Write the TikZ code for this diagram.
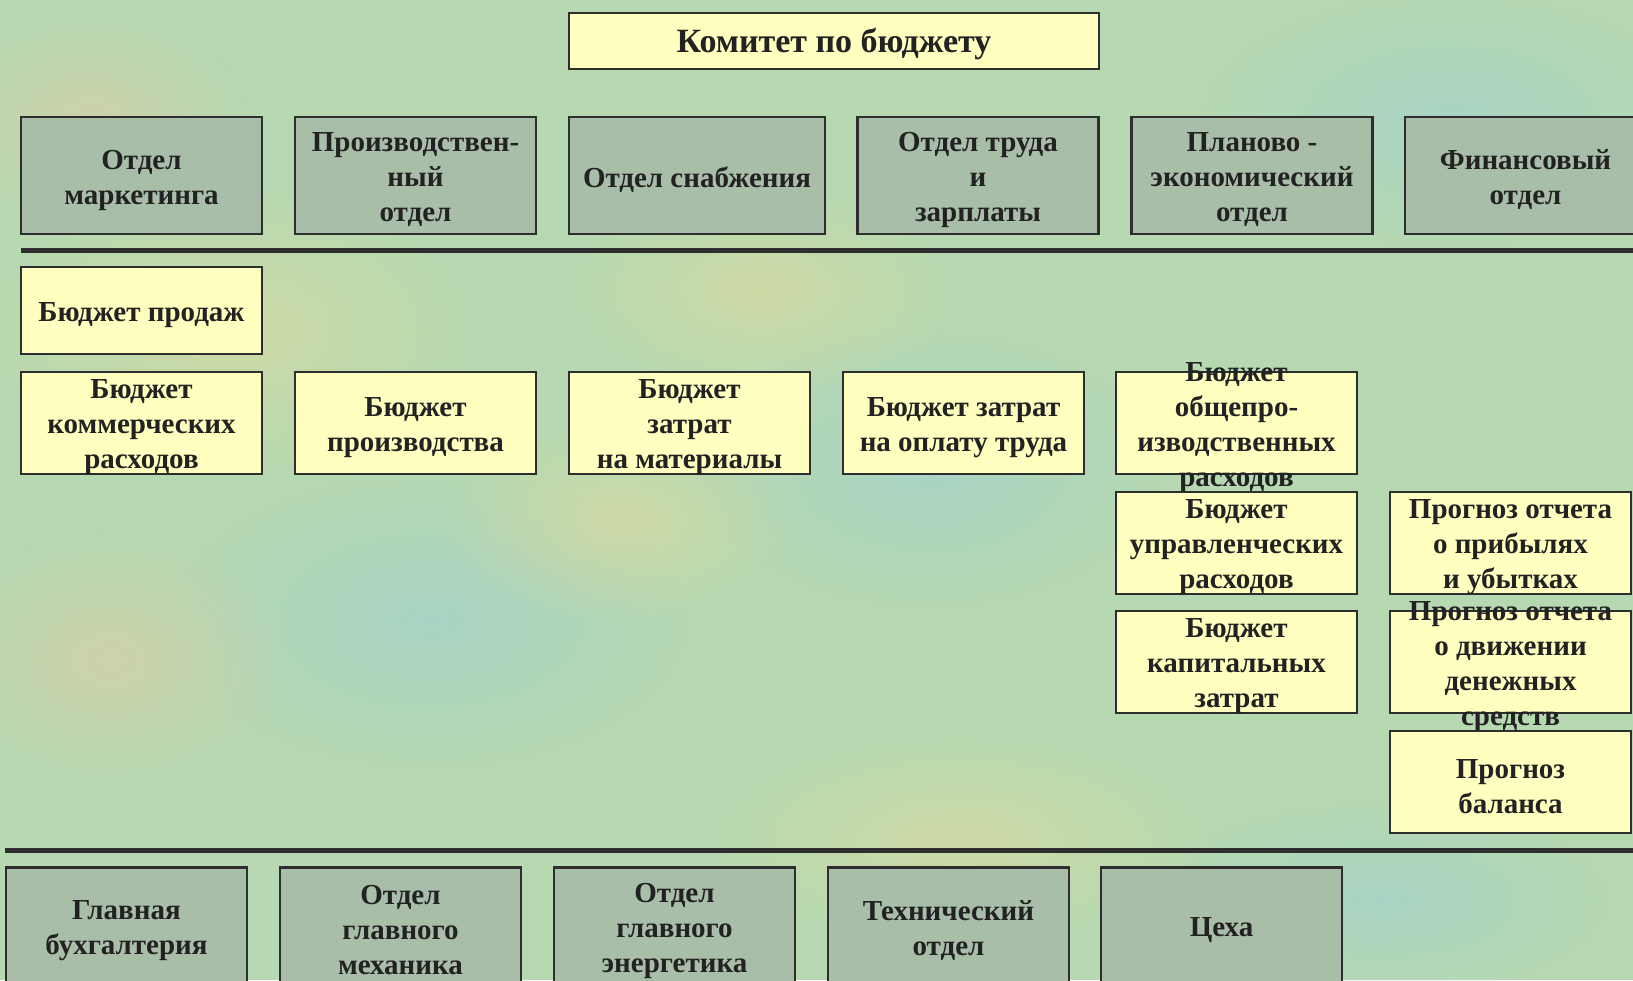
\documentclass[tikz,border=0pt]{standalone}
\usepackage{fontspec}
\setmainfont{Liberation Serif}
\usetikzlibrary{fadings}
\definecolor{bgc}{HTML}{B6D9B2}
\definecolor{greyc}{HTML}{A9BEA8}
\definecolor{yelc}{HTML}{FFFFC0}
\definecolor{bordc}{HTML}{2E2E2E}
\definecolor{textc}{HTML}{222222}
\definecolor{warmc}{HTML}{D9D9A0}
\definecolor{bluec}{HTML}{A4D2CC}
\definecolor{peachc}{HTML}{D8CFA8}
\tikzfading[name=softblob, inner color=transparent!0, outer color=transparent!100]
\tikzset{
  gbox/.style={draw=bordc, line width=2.8pt, fill=greyc, minimum width=241pt, minimum height=117pt, inner sep=0pt},
  ybox/.style={draw=bordc, line width=2.8pt, fill=yelc, minimum width=241pt, minimum height=102pt, inner sep=0pt},
  txt/.style={align=center, inner sep=0pt, yshift=-4.5pt, font=\fontsize{29}{35}\selectfont\bfseries, text=textc},
  blob/.style={path fading=softblob, fill opacity=0.7},
  rule/.style={draw=bordc, line width=5pt}
}
% \mybox{style}{name}{position}{text}
\newcommand{\mybox}[4]{%
  \node[#1] (#2) at #3 {};
  \node[txt] (#2-t) at (#2.center) {#4};}
\begin{document}
\begin{tikzpicture}[x=1pt,y=-1pt]
\useasboundingbox (0,0) rectangle (1633,980);
% background
\fill[bgc] (0,0) rectangle (1633,980);
\fill[blob, fill=warmc] (230,330) ellipse (260 and 150);
\fill[blob, fill=warmc] (760,290) ellipse (200 and 110);
\fill[blob, fill=bluec] (430,620) ellipse (260 and 150);
\fill[blob, fill=bluec] (930,470) ellipse (230 and 140);
\fill[blob, fill=peachc] (110,660) ellipse (180 and 130);
\fill[blob, fill=warmc] (620,520) ellipse (170 and 100);
\fill[blob, fill=bluec] (1450,120) ellipse (250 and 130);
\fill[blob, fill=warmc] (960,840) ellipse (260 and 110);
\fill[blob, fill=bluec] (1380,900) ellipse (230 and 100);
\fill[blob, fill=peachc] (90,120) ellipse (160 and 110);
% top
\node[ybox, minimum width=530pt, minimum height=56pt] (kom) at (834,41) {};
\node[txt, yshift=2pt, font=\fontsize{34}{40}\selectfont\bfseries] (kom-t) at (kom.center) {Комитет по бюджету};
% row 1
\mybox{gbox}{mark}{(141.5,175.5)}{Отдел\\маркетинга}
\mybox{gbox}{proizv}{(415.5,175.5)}{Производствен-\\ный\\отдел}
\mybox{gbox, minimum width=256pt}{snab}{(697,175.5)}{Отдел снабжения}
\mybox{gbox}{trud}{(978,175.5)}{Отдел труда\\и\\зарплаты}
\mybox{gbox}{plan}{(1252,175.5)}{Планово -\\экономический\\отдел}
\mybox{gbox}{fin}{(1525.5,175.5)}{Финансовый\\отдел}
% rule 1
\coordinate (r1a) at (21,250);
\coordinate (r1b) at (1633,250);
\draw[rule] (r1a) -- (r1b);
% budgets
\mybox{ybox, minimum height=87pt}{prod}{(141.5,310.5)}{Бюджет продаж}
\mybox{ybox}{komm}{(141.5,423)}{Бюджет\\коммерческих\\расходов}
\mybox{ybox}{bproizv}{(415.5,423)}{Бюджет\\производства}
\mybox{ybox}{mat}{(689.5,423)}{Бюджет\\затрат\\на материалы}
\mybox{ybox}{opl}{(963.5,423)}{Бюджет затрат\\на оплату труда}
\mybox{ybox}{obsch}{(1236.5,423)}{Бюджет\\общепро-\\изводственных\\расходов}
\mybox{ybox}{upr}{(1236.5,543)}{Бюджет\\управленческих\\расходов}
\mybox{ybox}{prib}{(1510.5,543)}{Прогноз отчета\\о прибылях\\и убытках}
\mybox{ybox}{kap}{(1236.5,662)}{Бюджет\\капитальных\\затрат}
\mybox{ybox}{dvizh}{(1510.5,662)}{Прогноз отчета\\о движении\\денежных\\средств}
\mybox{ybox}{bal}{(1510.5,782)}{Прогноз\\баланса}
% rule 2
\coordinate (r2a) at (5,850);
\coordinate (r2b) at (1633,850);
\draw[rule] (r2a) -- (r2b);
% bottom row
\mybox{gbox}{buh}{(126.5,926)}{Главная\\бухгалтерия}
\mybox{gbox}{meh}{(400.5,926)}{Отдел\\главного\\механика}
\mybox{gbox}{energ}{(674.5,926)}{Отдел\\главного\\энергетика}
\mybox{gbox}{tech}{(948.5,926)}{Технический\\отдел}
\mybox{gbox}{ceh}{(1221.5,926)}{Цеха}
\end{tikzpicture}
\end{document}
